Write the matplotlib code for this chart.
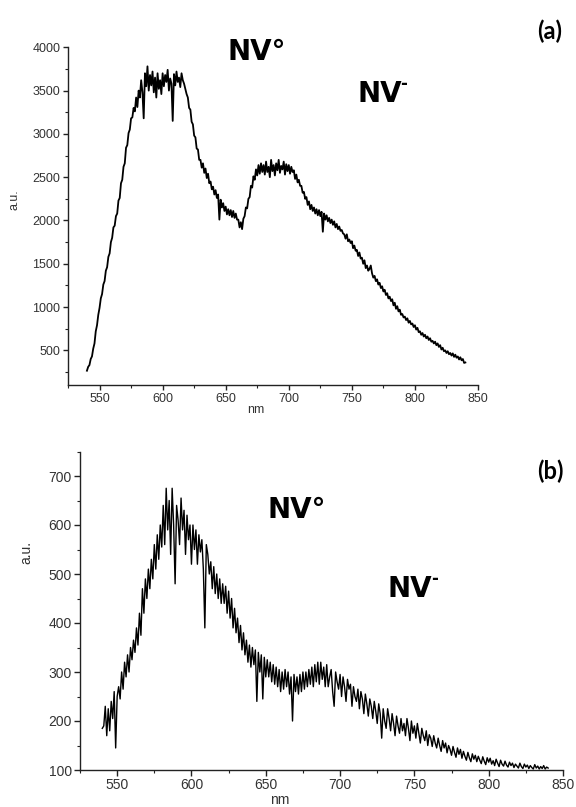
import matplotlib
matplotlib.use("Agg")
import matplotlib.pyplot as plt
import numpy as np
from matplotlib.ticker import MultipleLocator
from matplotlib import font_manager

# ---------------- data ----------------
nm_a_start, nm_a_end = 540, 840
intensity_a = [
    265, 310, 330, 400, 430, 520, 580, 720, 790, 910,
    990, 1100, 1150, 1260, 1300, 1420, 1460, 1580, 1620, 1750,
    1800, 1920, 1940, 2050, 2080, 2230, 2260, 2430, 2470, 2620,
    2660, 2840, 2870, 3010, 3050, 3180, 3190, 3300, 3260, 3420,
    3310, 3500, 3420, 3620, 3480, 3180, 3700, 3550, 3780, 3500,
    3680, 3560, 3720, 3480, 3650, 3420, 3700, 3520, 3620, 3460,
    3700, 3550, 3680, 3600, 3740, 3500, 3640, 3580, 3150, 3690,
    3560, 3720, 3600, 3650, 3540, 3700, 3620, 3580, 3520, 3460,
    3420, 3300, 3280, 3140, 3110, 2980, 2960, 2830, 2820, 2700,
    2700, 2610, 2660, 2550, 2600, 2490, 2540, 2430, 2450, 2360,
    2390, 2300, 2350, 2260, 2300, 2010, 2240, 2150, 2200, 2110,
    2160, 2070, 2130, 2060, 2120, 2040, 2110, 2030, 2080, 2010,
    2010, 1920, 1980, 1900, 2020, 2050, 2150, 2140, 2250, 2270,
    2400, 2380, 2510, 2470, 2590, 2520, 2640, 2540, 2660, 2560,
    2640, 2530, 2680, 2560, 2620, 2500, 2700, 2570, 2640, 2520,
    2660, 2580, 2700, 2550, 2630, 2590, 2680, 2530, 2650, 2570,
    2640, 2540, 2620, 2560, 2580, 2480, 2530, 2440, 2470, 2400,
    2400, 2320, 2330, 2250, 2270, 2180, 2220, 2130, 2180, 2110,
    2150, 2080, 2130, 2060, 2120, 2050, 2100, 1870, 2080, 2010,
    2060, 1990, 2030, 1970, 2010, 1950, 1990, 1920, 1960, 1900,
    1930, 1880, 1890, 1850, 1840, 1790, 1840, 1760, 1780, 1740,
    1760, 1680, 1710, 1650, 1660, 1590, 1630, 1560, 1570, 1500,
    1540, 1450, 1480, 1420, 1440, 1480, 1390, 1340, 1360, 1300,
    1320, 1260, 1280, 1220, 1240, 1180, 1200, 1140, 1160, 1100,
    1120, 1070, 1090, 1020, 1050, 980, 1010, 950, 970, 910,
    920, 880, 890, 850, 870, 820, 840, 800, 810, 770,
    790, 740, 760, 710, 720, 680, 700, 660, 680, 640,
    660, 620, 640, 600, 610, 580, 600, 560, 580, 540,
    560, 510, 530, 490, 500, 470, 490, 455, 470, 440,
    465, 425, 450, 415, 430, 395, 420, 385, 400, 355,
    360,
]

nm_b_start, nm_b_end = 540, 840
intensity_b = [
    185,
    190, 230, 170, 225, 180, 240, 205, 260, 145, 250,
    270, 245, 300, 265, 320, 290, 335, 300, 350, 325,
    365, 340, 390, 355, 420, 375, 470, 420, 490, 450,
    510, 470, 530, 490, 560, 510, 580, 530, 600, 555,
    640, 560, 675, 590, 650, 540, 675, 600, 480, 640,
    610, 560, 655, 590, 630, 540, 620, 570, 600, 520,
    600, 550, 590, 520, 580, 545, 570, 510, 390, 560,
    540, 500, 525, 470, 515, 460, 500, 450, 490, 440,
    480, 440, 475, 420, 465, 410, 450, 390, 430, 380,
    410, 360, 395, 345, 380, 335, 365, 320, 355, 310,
    350, 315, 345, 240, 340, 300, 335, 245, 330, 290,
    325, 290, 320, 280, 315, 275, 310, 270, 305, 260,
    300, 265, 305, 270, 300, 255, 290, 200, 295, 260,
    290, 255, 295, 260, 300, 265, 300, 270, 305, 275,
    310, 270, 315, 280, 320, 275, 320, 285, 310, 270,
    315, 270, 290, 305, 260, 230, 300, 280, 265, 295,
    250, 290, 270, 240, 285, 265, 275, 230, 270, 250,
    240, 265, 225, 260, 245, 215, 255, 235, 210, 245,
    230, 205, 240, 220, 195, 235, 215, 165, 225, 200,
    185, 225, 205, 180, 215, 195, 170, 210, 190, 175,
    205, 180, 195, 170, 205, 185, 160, 200, 175, 190,
    165, 195, 175, 155, 185, 170, 160, 180, 150, 172,
    165, 148, 170, 155, 145, 165, 150, 138, 160, 145,
    155, 135, 150, 142, 130, 148, 136, 126, 145, 132,
    142, 124, 138, 128, 120, 136, 125, 117, 133, 122,
    130, 117, 128, 120, 113, 127, 118, 111, 125, 116,
    124, 112, 119, 109, 122, 114, 107, 120, 112, 108,
    118, 110, 106, 116, 109, 114, 105, 112, 108, 104,
    114, 107, 103, 112, 106, 110, 103, 109, 105, 102,
    111, 104, 108, 102, 107, 103, 109, 102, 106, 104,
]

x_ticks = [550, 600, 650, 700, 750, 800, 850]
y_ticks_a = [500, 1000, 1500, 2000, 2500, 3000, 3500, 4000]
y_ticks_b = [100, 200, 300, 400, 500, 600, 700]
x_label = "nm"
y_label = "a.u."

nm_a = np.arange(nm_a_start, nm_a_end + 1)
nm_b = np.arange(nm_b_start, nm_b_end + 1)

# fonts
installed = {f.name for f in font_manager.fontManager.ttflist}
narrow = "Liberation Sans Narrow" if "Liberation Sans Narrow" in installed else "Liberation Sans"

# ---------------- figure ----------------
W, H = 576, 807
fig = plt.figure(figsize=(W / 100, H / 100), dpi=100)
tick_color = "#333333"


def px_axes(l, t, r, b):
    return [l / W, 1 - b / H, (r - l) / W, (b - t) / H]


def style(ax, fs, family, major_len, minor_len):
    for s in ("top", "right"):
        ax.spines[s].set_visible(False)
    for s in ("left", "bottom"):
        ax.spines[s].set_linewidth(1.0)
        ax.spines[s].set_color("#222222")
    ax.tick_params(which="major", direction="out", length=major_len, width=1.0,
                   labelsize=fs, colors="#222222", labelcolor=tick_color, pad=2)
    ax.tick_params(which="minor", direction="out", length=minor_len, width=0.8,
                   colors="#222222")
    for lab in ax.get_xticklabels() + ax.get_yticklabels():
        lab.set_family(family)


# top panel (a)
ax1 = fig.add_axes(px_axes(68, 47.3, 478, 385))
ax1.plot(nm_a, intensity_a, color="black", lw=1.3)
ax1.set_xlim(525, 850)
ax1.set_ylim(100, 4000)
ax1.set_xticks(x_ticks)
ax1.set_yticks(y_ticks_a)
ax1.xaxis.set_minor_locator(MultipleLocator(25))
ax1.yaxis.set_minor_locator(MultipleLocator(250))
style(ax1, 9, narrow, 3.5, 2.0)
ax1.set_xlabel(x_label, fontsize=9, color=tick_color, family=narrow)
ax1.set_ylabel(y_label, fontsize=9, color=tick_color, family=narrow)
ax1.xaxis.set_label_coords((256 - 68) / 410, -(404 - 385) / (385 - 47.3))
ax1.yaxis.set_label_coords(-(68 - 21) / 410, (385 - 200) / (385 - 47.3))

# bottom panel (b)
ax2 = fig.add_axes(px_axes(80, 451.5, 563, 770))
ax2.plot(nm_b, intensity_b, color="black", lw=1.0)
ax2.set_xlim(525, 850)
ax2.set_ylim(100, 750)
ax2.set_xticks(x_ticks)
ax2.set_yticks(y_ticks_b)
ax2.xaxis.set_minor_locator(MultipleLocator(25))
ax2.yaxis.set_minor_locator(MultipleLocator(50))
style(ax2, 10, "Liberation Sans", 4.0, 2.5)
ax2.set_xlabel(x_label, fontsize=10, color=tick_color, family="Liberation Sans")
ax2.set_ylabel(y_label, fontsize=10, color=tick_color, family="Liberation Sans")
ax2.xaxis.set_label_coords((280 - 80) / 483, -(793 - 770) / (770 - 451.5))
ax2.yaxis.set_label_coords(-(80 - 33) / 483, (770 - 553) / (770 - 451.5))

# annotations
ann = dict(fontsize=20, fontweight="bold", family="DejaVu Sans", color="black")
sup = dict(fontsize=12, fontweight="bold", family="DejaVu Sans", color="black")
fig.text(228 / W, 1 - 60 / H, "NV°", ha="left", va="baseline", **ann)
fig.text(357 / W, 1 - 102 / H, "NV", ha="left", va="baseline", **ann)
fig.text(400 / W, 1 - 84 / H, "-", ha="left", va="center", **sup)
fig.text(267 / W, 1 - 518 / H, "NV°", ha="left", va="baseline", **ann)
fig.text(388 / W, 1 - 597 / H, "NV", ha="left", va="baseline", **ann)
fig.text(431 / W, 1 - 579 / H, "-", ha="left", va="center", **sup)
lab = dict(fontsize=17, fontweight="bold", family="Lato", color="black")
fig.text(550 / W, 1 - 31.5 / H, "(a)", ha="center", va="center", **lab)
fig.text(550 / W, 1 - 471 / H, "(b)", ha="center", va="center", **lab)

fig.savefig("out.png", dpi=100, facecolor="white")
